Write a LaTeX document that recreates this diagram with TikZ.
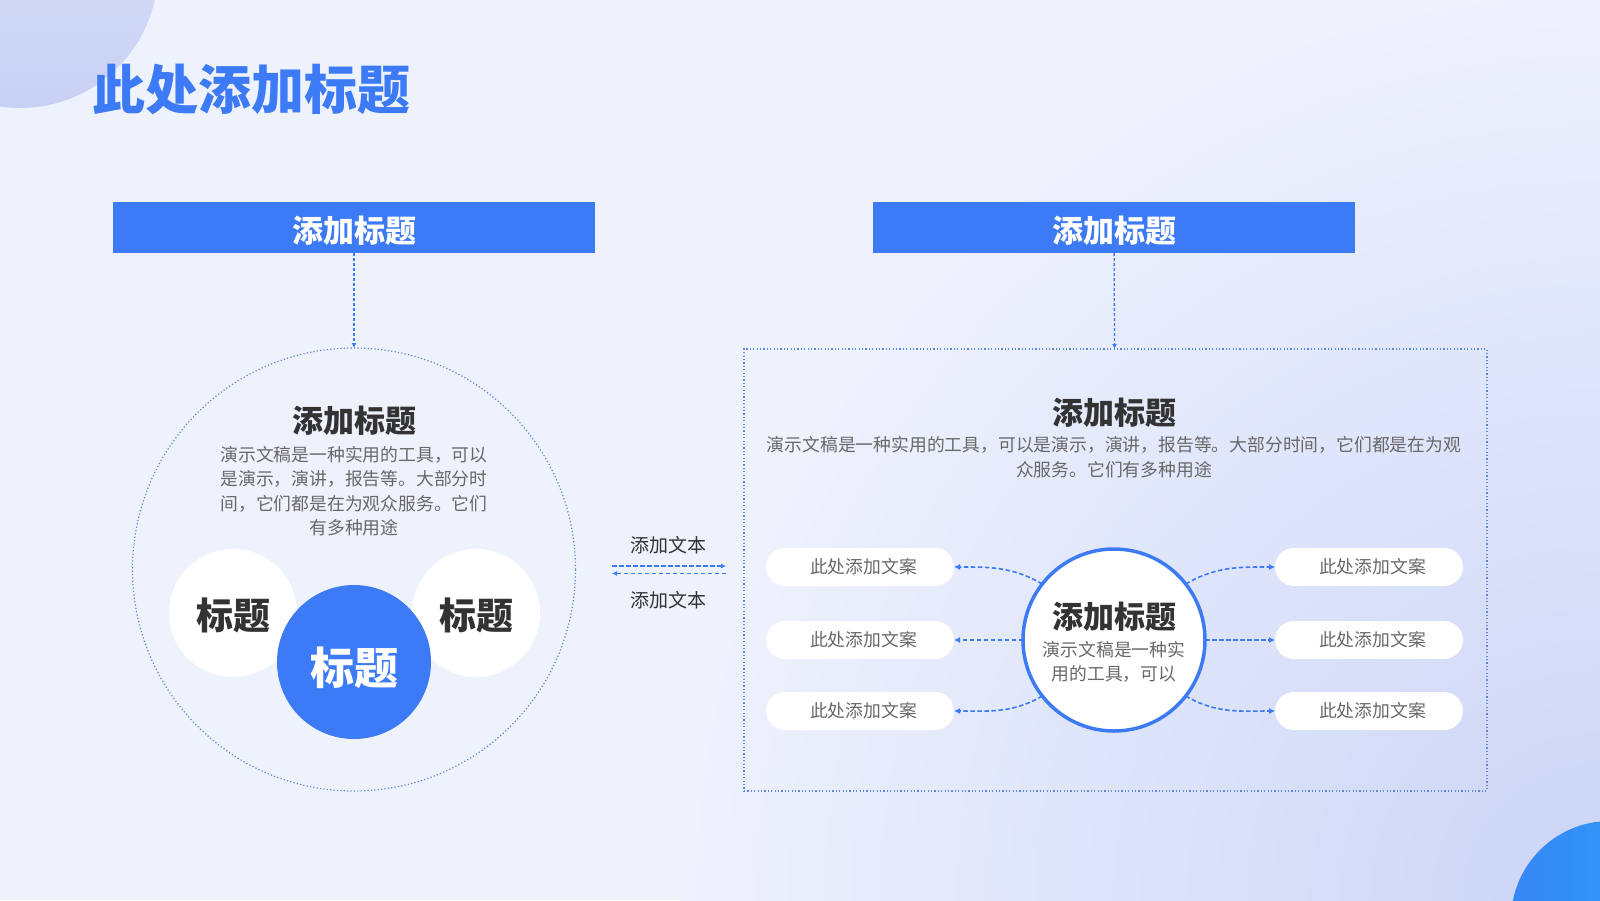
\documentclass[tikz,border=0pt]{standalone}
\usepackage{fontspec}
\newfontfamily\cjk{Noto Sans CJK SC}
\usetikzlibrary{positioning}
\usetikzlibrary{shapes.misc}
\usetikzlibrary{arrows.meta}
\definecolor{pagebg}{HTML}{EEF2FD}
\definecolor{pagecorner}{HTML}{CBD4F6}
\definecolor{deco}{HTML}{C8D1F5}
\definecolor{mainblue}{HTML}{3D7AF5}
\definecolor{dotblue}{HTML}{6286D6}
\definecolor{darktext}{HTML}{333333}
\definecolor{graytext}{HTML}{686868}
\tikzset{headbox/.style={fill=mainblue, text=white, minimum width=482, minimum height=51, inner sep=0pt, outer sep=0pt, text height=30pt, text depth=0pt, font=\cjk\bfseries\fontsize{31}{31}\selectfont},
	subtitle/.style={text=darktext, inner sep=0pt, font=\cjk\bfseries\fontsize{31}{31}\selectfont},
	bodytext/.style={text=graytext, inner sep=0pt, align=center, font=\cjk\fontsize{17.8}{24.5}\selectfont},
	pill/.style={rounded rectangle, fill=white, minimum width=188, minimum height=38, inner sep=0pt, outer sep=0pt, text=graytext, font=\cjk\fontsize{17.8}{17.8}\selectfont, execute at begin node={\hspace*{7pt}}},
	%default size is that of the white circles
	ball/.style={circle, inner sep=0pt, outer sep=0pt, minimum size=#1},
	ball/.default={128},
	vlink/.style={draw=mainblue, line width=1.3pt, dash pattern=on 3pt off 2pt, -{Latex[length=5pt,width=5pt]}},
	link/.style={draw=mainblue, line width=1.6pt, dash pattern=on 4.5pt off 2.5pt, -{Latex[length=6pt,width=6pt]}},
	dotframe/.style={draw=dotblue, line width=1.2pt, dash pattern=on 1.2pt off 2.2pt}}

\begin{document}
\begin{tikzpicture}[x=1pt, y=1pt]
		\clip (0,0) rectangle (1600,-900);
		\fill[pagebg] (0,0) rectangle (1600,-900);
		\shade[inner color=pagecorner, outer color=pagebg] (1600,-900) circle (920);
		\shade[top color=deco!60!white, bottom color=deco] (20,30) circle (138);
		\shade[left color=mainblue!90!cyan, right color=mainblue!70!cyan] (1610,-920) circle (99);

		\node[text=mainblue, inner sep=0pt, font=\cjk\bfseries\fontsize{53}{53}\selectfont] (T) at (251,-89) {此处添加标题};

		% left part
		\node[headbox] (H1) at (354,-227.5) {添加标题};
		\node[ball=443, dotframe] (LC) at (354,-569.5) {};
		\node[subtitle] (LT) at (354,-421) {添加标题};
		\node[bodytext] (LP) at (354,-491) {演示文稿是一种实用的工具，可以\\是演示，演讲，报告等。大部分时\\间，它们都是在为观众服务。它们\\有多种用途};
		\node[ball, fill=white, text=darktext, text height=37pt, text depth=3.7pt, font=\cjk\bfseries\fontsize{37}{37}\selectfont] (W1) at (233,-613) {标题};
		\node[ball, fill=white, text=darktext, text height=37pt, text depth=3.7pt, font=\cjk\bfseries\fontsize{37}{37}\selectfont] (W2) at (476,-613) {标题};
		\node[ball=154, fill=mainblue, text=white, text height=50pt, text depth=4.4pt, font=\cjk\bfseries\fontsize{44}{44}\selectfont] (B) at (354,-662) {标题};
		\draw[vlink] (H1) -- (LC);

		% middle
		\node[text=darktext, inner sep=0pt, font=\cjk\fontsize{19}{19}\selectfont] (M1) at (668,-545) {添加文本};
		\node[text=darktext, inner sep=0pt, font=\cjk\fontsize{19}{19}\selectfont] (M2) at (668,-600) {添加文本};
		\coordinate (A1) at (612,-566);
		\coordinate (A2) at (726,-566);
		\coordinate (A3) at (726,-573.5);
		\coordinate (A4) at (612,-573.5);
		\draw[link, line width=1.5pt, -{Latex[length=5pt,width=5pt]}] (A1) -- (A2);
		\draw[link, line width=1.5pt, -{Latex[length=5pt,width=5pt]}] (A3) -- (A4);

		% right part
		\node[headbox] (H2) at (1114,-227.5) {添加标题};
		\node[dotframe, minimum width=743, minimum height=442, inner sep=0pt, outer sep=0pt] (RB) at (1115.5,-570) {};
		\node[subtitle] (RT) at (1114,-413) {添加标题};
		\node[bodytext] (RP) at (1114,-457) {演示文稿是一种实用的工具，可以是演示，演讲，报告等。大部分时间，它们都是在为观\\众服务。它们有多种用途};
		\draw[vlink] (H2) -- (RB);

		\node[ball=182, fill=white, draw=mainblue, line width=3.5pt] (C) at (1114,-640) {};
		\node[subtitle] (CT) at (1114,-617) {添加标题};
		\node[bodytext] (CP) at (1114,-662) {演示文稿是一种实\\用的工具，可以};

		\node[pill] (L2) at (860,-640) {此处添加文案};
		\node[pill, above=35pt of L2] (L1) {此处添加文案};
		\node[pill, below=33pt of L2] (L3) {此处添加文案};
		\node[pill] (R2) at (1369,-640) {此处添加文案};
		\node[pill, above=35pt of R2] (R1) {此处添加文案};
		\node[pill, below=33pt of R2] (R3) {此处添加文案};

		\draw[link] (C.142) to[out=150, in=0] (L1.east);
		\draw[link] (C.west) -- (L2.east);
		\draw[link] (C.218) to[out=210, in=0] (L3.east);
		\draw[link] (C.38) to[out=30, in=180] (R1.west);
		\draw[link] (C.east) -- (R2.west);
		\draw[link] (C.-38) to[out=-30, in=180] (R3.west);
	\end{tikzpicture}
\end{document}
